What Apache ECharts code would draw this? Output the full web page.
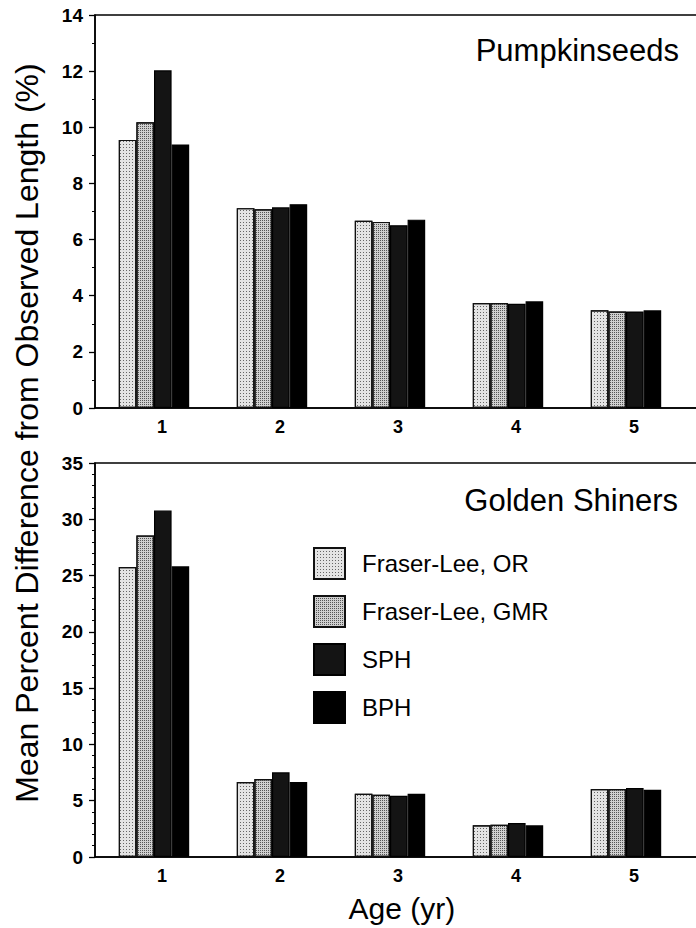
<!DOCTYPE html>
<html>
<head>
<meta charset="utf-8">
<script src="https://cdn.jsdelivr.net/npm/echarts@6/dist/echarts.min.js"></script>
<style>
html,body{margin:0;padding:0;background:#fff;}
#chart{width:696px;height:928px;}
</style>
</head>
<body>
<div id="chart"></div>
<script>
// ---- data ----
const ages = [1, 2, 3, 4, 5];
const ageLabels = ['1', '2', '3', '4', '5'];
const seriesNames = ['Fraser-Lee, OR', 'Fraser-Lee, GMR', 'SPH', 'BPH'];

// Pumpkinseeds (top panel)
const pumpOR  = [9.55, 7.12, 6.67, 3.74, 3.48];
const pumpGMR = [10.18, 7.08, 6.63, 3.74, 3.44];
const pumpSPH = [12.03, 7.15, 6.51, 3.71, 3.44];
const pumpBPH = [9.39, 7.26, 6.71, 3.80, 3.48];

// Golden shiners (bottom panel)
const goldOR  = [25.76, 6.66, 5.62, 2.81, 6.04];
const goldGMR = [28.55, 6.93, 5.53, 2.87, 6.04];
const goldSPH = [30.77, 7.52, 5.44, 3.02, 6.13];
const goldBPH = [25.82, 6.66, 5.62, 2.81, 5.98];

const topTicks = [0, 2, 4, 6, 8, 10, 12, 14];
const bottomTicks = [0, 5, 10, 15, 20, 25, 30, 35];

// ---- styles ----
const FONT = '"Liberation Sans", Arial, Helvetica, sans-serif';
const styles = [
  {color: '#e4e4e4', borderColor: '#111', borderWidth: 1.2,
   decal: {symbol: 'rect', symbolSize: 1, dashArrayX: [1, 2], dashArrayY: [1, 2], color: '#666'}},
  {color: '#cfcfcf', borderColor: '#111', borderWidth: 1.2,
   decal: {symbol: 'rect', symbolSize: 1, dashArrayX: [1, 1], dashArrayY: [1, 1], color: '#555'}},
  {color: '#141414', borderColor: '#000', borderWidth: 1.2},
  {color: '#000000', borderColor: '#000', borderWidth: 1.2}
];

const topData = [pumpOR, pumpGMR, pumpSPH, pumpBPH];
const botData = [goldOR, goldGMR, goldSPH, goldBPH];

function pairs(vals) { return ages.map((a, i) => [a, vals[i]]); }

const series = [];
[topData, botData].forEach((set, gi) => {
  set.forEach((vals, si) => {
    series.push({
      type: 'bar',
      name: seriesNames[si],
      xAxisIndex: gi,
      yAxisIndex: gi,
      data: pairs(vals),
      barWidth: 17.6,
      barGap: '0%',
      itemStyle: styles[si],
      emphasis: {disabled: true},
      animation: false
    });
  });
});

function xAxisDef(gi, withName) {
  const ax = {
    type: 'value', gridIndex: gi, min: 0.5, max: 5.7,
    axisLine: {show: true, lineStyle: {color: '#000', width: 1.5}},
    axisTick: {show: false},
    splitLine: {show: false},
    axisLabel: {
      customValues: ages,
      formatter: v => ageLabels[ages.indexOf(v)],
      fontFamily: FONT, fontSize: 18, fontWeight: 'bold', color: '#000', margin: 10,
      padding: [0, 0, 0, 16]
    }
  };
  if (withName) {
    ax.name = 'Age (yr)';
    ax.nameLocation = 'middle';
    ax.nameGap = 36;
    ax.nameTextStyle = {fontFamily: FONT, fontSize: 30, color: '#000'};
  }
  return ax;
}

function yAxisDef(gi, ticks, minorSplit) {
  return {
    type: 'value', gridIndex: gi,
    min: ticks[0], max: ticks[ticks.length - 1], interval: ticks[1] - ticks[0],
    axisLine: {show: true, lineStyle: {color: '#000', width: 1.5}},
    axisTick: {show: true, inside: false, length: 6, lineStyle: {color: '#000', width: 1.3}},
    minorTick: {show: true, splitNumber: minorSplit, length: 3, lineStyle: {color: '#000', width: 1}},
    splitLine: {show: false},
    axisLabel: {fontFamily: FONT, fontSize: 19, fontWeight: 'bold', color: '#000', margin: 12}
  };
}

const option = {
  backgroundColor: '#fff',
  animation: false,
  title: [
    {text: 'Pumpkinseeds', right: 17, top: 35, padding: 0,
     textStyle: {fontFamily: FONT, fontSize: 31, fontWeight: 'normal', color: '#000'}},
    {text: 'Golden Shiners', right: 18, top: 485, padding: 0,
     textStyle: {fontFamily: FONT, fontSize: 31, fontWeight: 'normal', color: '#000'}}
  ],
  legend: {
    data: seriesNames,
    orient: 'vertical',
    left: 313, top: 547, padding: 0,
    itemWidth: 31, itemHeight: 31, itemGap: 15,
    icon: 'rect',
    selectedMode: false,
    textStyle: {fontFamily: FONT, fontSize: 24, color: '#000', padding: [0, 0, 0, 12]}
  },
  grid: [
    {left: 95, top: 15, width: 613.6, height: 393, outerBoundsMode: 'none',
     show: true, borderColor: '#000', borderWidth: 1.5, backgroundColor: 'transparent'},
    {left: 95, top: 463, width: 613.6, height: 394, outerBoundsMode: 'none',
     show: true, borderColor: '#000', borderWidth: 1.5, backgroundColor: 'transparent'}
  ],
  xAxis: [xAxisDef(0, false), xAxisDef(1, true)],
  yAxis: [yAxisDef(0, topTicks, 2), yAxisDef(1, bottomTicks, 5)],
  graphic: [{
    type: 'text',
    x: 27, y: 433,
    rotation: Math.PI / 2,
    style: {
      text: 'Mean Percent Difference from Observed Length (%)',
      font: '32px ' + FONT,
      fill: '#000',
      align: 'center',
      verticalAlign: 'middle'
    }
  }],
  series: series
};

const chart = echarts.init(document.getElementById('chart'), null, {renderer: 'svg'});
chart.setOption(option);
</script>
</body>
</html>
